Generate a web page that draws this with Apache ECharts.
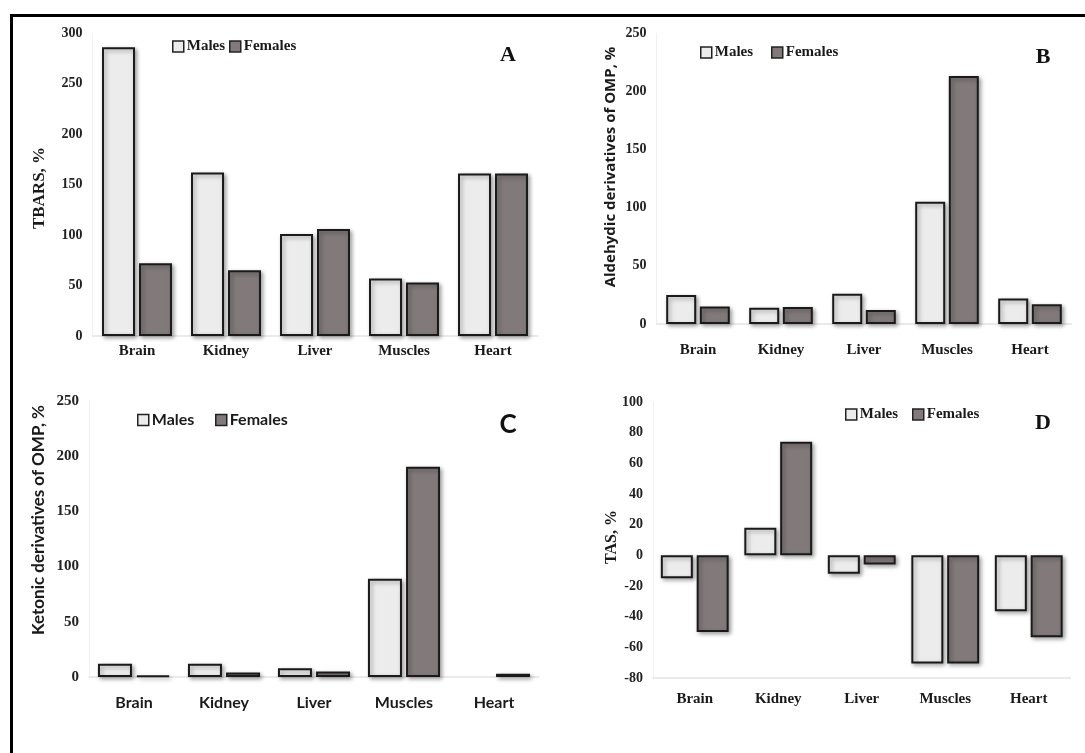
<!DOCTYPE html>
<html>
<head>
<meta charset="utf-8">
<script src="https://cdn.jsdelivr.net/npm/echarts@6/dist/echarts.min.js"></script>
<style>
html,body{margin:0;padding:0;background:#fff;}
#chart{width:1085px;height:753px;}
</style>
</head>
<body>
<div id="chart"></div>
<script>
// ---- data ----
const categories = ['Brain', 'Kidney', 'Liver', 'Muscles', 'Heart'];
const seriesNames = ['Males', 'Females'];
// A: TBARS, %
const tbarsMales   = [286, 162, 101, 57, 161];
const tbarsFemales = [72, 65, 106, 53, 161];
// B: Aldehydic derivatives of OMP, %
const aldMales   = [25, 14, 26, 105, 22];
const aldFemales = [15, 14.5, 12, 213, 17];
// C: Ketonic derivatives of OMP, %  (no male bar drawn for Heart)
const ketMales   = [12, 12, 8, 89, null];
const ketFemales = [1.5, 4, 5, 190.5, 3];
// D: TAS, %
const tasMales   = [-15, 18, -12, -70.5, -36.5];
const tasFemales = [-50, 74, -6, -70.5, -53.5];
// axis ranges / names / panel letters
const yRanges = [[0, 300, 50], [0, 250, 50], [0, 250, 50], [-80, 100, 20]];
const yNames = ['TBARS, %', 'Aldehydic derivatives of OMP, %', 'Ketonic derivatives of OMP, %', 'TAS, %'];
const panelLetters = ['A', 'B', 'C', 'D'];

const SERIF = '"Liberation Serif", "DejaVu Serif", serif';
const SANS = 'Lato, "Open Sans", sans-serif';
const OSANS = '"Open Sans", Lato, sans-serif';
const maleColor = '#ececec';
const femaleColor = '#827a7a';

const grids = [
  {left: 92.5, top: 33, width: 445, height: 303},
  {left: 656.5, top: 33, width: 415, height: 291},
  {left: 89, top: 401, width: 450, height: 276},
  {left: 653, top: 402, width: 417.5, height: 276}
];
const catFont = [SERIF, SERIF, SANS, SERIF];
const catSize = [15, 15, 16, 15];
const catMargin = [8, 19, 18, 14];
const barWidths = [33, 30, 34, 32];

const xAxes = grids.map((g, i) => ({
  type: 'category', gridIndex: i, data: categories,
  axisLine: {show: true, onZero: false, lineStyle: {color: '#e4e4e4', width: 1.5}},
  axisTick: {show: false},
  axisLabel: {fontFamily: catFont[i], fontWeight: 'bold', fontSize: catSize[i], color: '#1a1a1a', margin: catMargin[i]}
}));
const yAxes = grids.map((g, i) => ({
  type: 'value', gridIndex: i, min: yRanges[i][0], max: yRanges[i][1], interval: yRanges[i][2],
  axisLine: {show: true, lineStyle: {color: '#f0f0f0', width: 1}},
  axisTick: {show: false},
  splitLine: {show: false},
  axisLabel: {fontFamily: SERIF, fontWeight: 'bold', fontSize: i === 2 ? 15 : 14, color: '#222', margin: 10}
}));

const panelData = [
  [tbarsMales, tbarsFemales],
  [aldMales, aldFemales],
  [ketMales, ketFemales],
  [tasMales, tasFemales]
];
const series = [];
panelData.forEach((pair, i) => {
  pair.forEach((vals, k) => {
    series.push({
      name: seriesNames[k], type: 'bar', xAxisIndex: i, yAxisIndex: i,
      data: vals, barWidth: barWidths[i], barGap: '12%',
      itemStyle: {
        color: k === 0 ? maleColor : femaleColor,
        borderColor: '#1a1a1a', borderWidth: 2,
        shadowBlur: 4, shadowOffsetX: 2, shadowOffsetY: 2, shadowColor: 'rgba(0,0,0,0.35)'
      },
      emphasis: {disabled: true}
    });
  });
});

// legends: one per item so each can be placed
const legendPos = [
  [[172, 39], [229, 39]],
  [[700, 45], [771, 45]],
  [[137, 412], [215, 412]],
  [[845, 407], [912, 407]]
];
const legendFont = [SERIF, SERIF, SANS, SERIF];
const legendSize = [15, 15, 16, 15];
const legends = [];
legendPos.forEach((pp, i) => {
  pp.forEach((p, k) => {
    legends.push({
      data: [seriesNames[k]], left: p[0], top: p[1], padding: 0,
      itemWidth: 11, itemHeight: 11, itemGap: 3, icon: 'rect', selectedMode: false,
      itemStyle: {borderColor: '#222', borderWidth: 1.5},
      textStyle: {fontFamily: legendFont[i], fontWeight: 'bold', fontSize: legendSize[i], color: '#1a1a1a', padding: [0, 0, 0, -2]}
    });
  });
});

const namePos = [[40, 188], [611, 167], [39, 520], [612, 537]];
const nameFont = [SERIF, OSANS, SANS, SERIF];
const nameSize = [17, 15, 17, 16];
const letterPos = [[508, 55], [1043, 57], [508, 425], [1043, 423]];
const letterFont = [SERIF, SERIF, SANS, SERIF];
const letterSize = [22, 22, 26, 22];

const graphics = [
  {type: 'rect', left: 9, top: 13, shape: {width: 1200, height: 900}, style: {fill: 'none', stroke: '#000', lineWidth: 3}, silent: true}
];
yNames.forEach((n, i) => {
  graphics.push({
    type: 'text', x: namePos[i][0], y: namePos[i][1], rotation: Math.PI / 2,
    style: {text: n, font: 'bold ' + nameSize[i] + 'px ' + nameFont[i], fill: '#1a1a1a', textAlign: 'center', textVerticalAlign: 'middle'}
  });
});
panelLetters.forEach((l, i) => {
  graphics.push({
    type: 'text', x: letterPos[i][0], y: letterPos[i][1],
    style: {text: l, font: 'bold ' + letterSize[i] + 'px ' + letterFont[i], fill: '#111', textAlign: 'center', textVerticalAlign: 'middle'}
  });
});

const chart = echarts.init(document.getElementById('chart'), null, {renderer: 'canvas'});
chart.setOption({
  animation: false,
  backgroundColor: '#fff',
  grid: grids,
  xAxis: xAxes,
  yAxis: yAxes,
  legend: legends,
  series: series,
  graphic: graphics
});
</script>
</body>
</html>
